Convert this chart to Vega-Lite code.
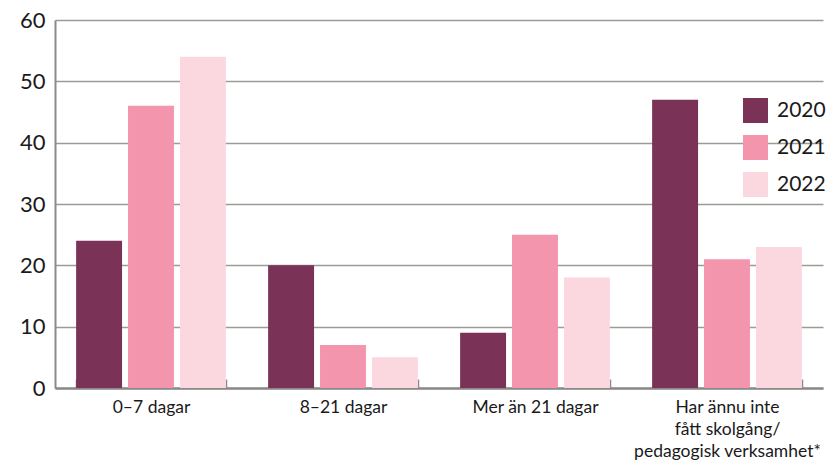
{
  "$schema": "https://vega.github.io/schema/vega-lite/v6.json",
  "width": 768,
  "height": 368,
  "autosize": {"type": "none"},
  "padding": {"left": 55, "top": 20, "right": 10, "bottom": 73},
  "background": "white",
  "config": {
    "view": {"stroke": null},
    "font": "Lato",
    "axis": {"labelColor": "#1a1a1a", "labelFont": "Lato", "title": null}
  },
  "data": {
    "values": [
      {"kategori": "0–7 dagar", "ar": "2020", "andel": 24},
      {"kategori": "0–7 dagar", "ar": "2021", "andel": 46},
      {"kategori": "0–7 dagar", "ar": "2022", "andel": 54},
      {"kategori": "8–21 dagar", "ar": "2020", "andel": 20},
      {"kategori": "8–21 dagar", "ar": "2021", "andel": 7},
      {"kategori": "8–21 dagar", "ar": "2022", "andel": 5},
      {"kategori": "Mer än 21 dagar", "ar": "2020", "andel": 9},
      {"kategori": "Mer än 21 dagar", "ar": "2021", "andel": 25},
      {"kategori": "Mer än 21 dagar", "ar": "2022", "andel": 18},
      {"kategori": "Har ännu inte fått skolgång/pedagogisk verksamhet*", "ar": "2020", "andel": 47},
      {"kategori": "Har ännu inte fått skolgång/pedagogisk verksamhet*", "ar": "2021", "andel": 21},
      {"kategori": "Har ännu inte fått skolgång/pedagogisk verksamhet*", "ar": "2022", "andel": 23}
    ]
  },
  "mark": {"type": "bar"},
  "encoding": {
    "x": {
      "field": "kategori",
      "type": "nominal",
      "sort": null,
      "scale": {"paddingInner": 0.22, "paddingOuter": 0.11},
      "axis": {
        "labelAngle": 0,
        "labelFontSize": 17.5,
        "labelPadding": 19,
        "labelLineHeight": 22,
        "labelBaseline": "top",
        "labelLimit": 400,
        "labelOverlap": false,
        "labelExpr": "datum.value == 'Har ännu inte fått skolgång/pedagogisk verksamhet*' ? ['Har ännu inte', 'fått skolgång/', 'pedagogisk verksamhet*'] : datum.label",
        "domainColor": "#8a8a8a",
        "domainWidth": 2.5,
        "ticks": true,
        "tickBand": "extent",
        "tickSize": -9,
        "tickColor": "#8a8a8a",
        "tickWidth": 1.5,
        "grid": false
      }
    },
    "xOffset": {
      "field": "ar",
      "type": "nominal",
      "scale": {"paddingInner": 0.115, "paddingOuter": 0}
    },
    "y": {
      "field": "andel",
      "type": "quantitative",
      "scale": {"domain": [0, 60], "nice": false},
      "axis": {
        "values": [0, 10, 20, 30, 40, 50, 60],
        "labelFontSize": 22,
        "labelPadding": 10,
        "ticks": false,
        "domainColor": "#8a8a8a",
        "domainWidth": 2,
        "grid": true,
        "gridColor": "#9a9a96",
        "gridWidth": 1.6
      }
    },
    "color": {
      "field": "ar",
      "type": "nominal",
      "scale": {"domain": ["2020", "2021", "2022"], "range": ["#7a3256", "#f395ad", "#fbd8df"]},
      "legend": {
        "title": null,
        "orient": "none",
        "legendX": 688,
        "legendY": 78,
        "symbolType": "square",
        "symbolSize": 625,
        "symbolStrokeWidth": 0,
        "symbolOpacity": 1,
        "labelFontSize": 21,
        "labelColor": "#1a1a1a",
        "labelOffset": 9,
        "rowPadding": 12
      }
    }
  }
}
